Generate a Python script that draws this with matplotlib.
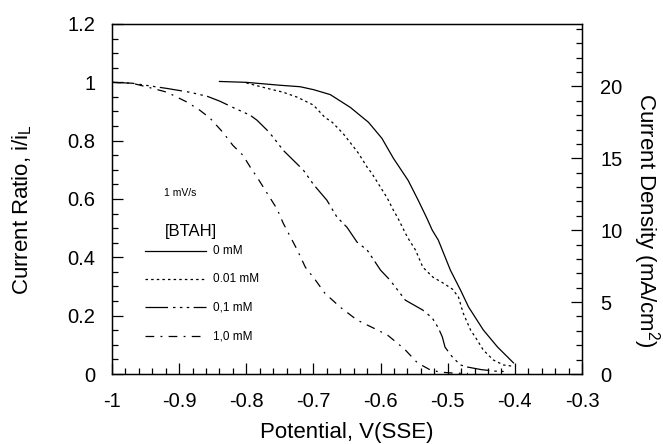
import matplotlib
matplotlib.use("Agg")
import matplotlib.pyplot as plt
from matplotlib.ticker import MultipleLocator, FixedLocator

plt.rcParams['font.family'] = ['Liberation Sans', 'DejaVu Sans']

# ---- data ----
x_0mM = [-0.84, -0.80, -0.75, -0.72, -0.70, -0.675, -0.645, -0.618, -0.598, -0.581,
         -0.559, -0.544, -0.531, -0.523, -0.514, -0.496, -0.481, -0.469, -0.447, -0.426, -0.402]
y_0mM = [1.003, 1.0, 0.99, 0.985, 0.975, 0.958, 0.914, 0.863, 0.808, 0.74,
         0.664, 0.596, 0.534, 0.493, 0.459, 0.356, 0.288, 0.23, 0.151, 0.093, 0.038]

x_001mM = [-0.80, -0.77, -0.745, -0.724, -0.70, -0.683, -0.672, -0.656, -0.642, -0.633,
           -0.62, -0.613, -0.60, -0.59, -0.581, -0.575, -0.56, -0.548, -0.537, -0.522,
           -0.507, -0.493, -0.484, -0.477, -0.466, -0.456, -0.447, -0.432, -0.417, -0.404]
y_001mM = [0.998, 0.98, 0.966, 0.949, 0.922, 0.88, 0.863, 0.825, 0.784, 0.757,
           0.709, 0.688, 0.64, 0.603, 0.562, 0.538, 0.469, 0.425, 0.366, 0.332,
           0.312, 0.291, 0.264, 0.209, 0.151, 0.116, 0.082, 0.048, 0.031, 0.027]

x_01mM = [-1.0, -0.97, -0.95, -0.918, -0.884, -0.858, -0.839, -0.82, -0.794, -0.784,
          -0.769, -0.76, -0.745, -0.73, -0.715, -0.70, -0.68, -0.665, -0.65, -0.635,
          -0.62, -0.60, -0.586, -0.571, -0.563, -0.537, -0.523, -0.514, -0.508, -0.504,
          -0.493, -0.481, -0.471, -0.45, -0.43, -0.41]
y_01mM = [1.0, 0.997, 0.99, 0.979, 0.966, 0.952, 0.935, 0.914, 0.887, 0.87,
          0.836, 0.812, 0.767, 0.733, 0.699, 0.65, 0.596, 0.538, 0.503, 0.452,
          0.425, 0.356, 0.322, 0.277, 0.253, 0.219, 0.192, 0.158, 0.127, 0.092,
          0.058, 0.031, 0.024, 0.015, 0.01, 0.008]

x_1mM = [-1.0, -0.97, -0.939, -0.918, -0.888, -0.869, -0.854, -0.835, -0.82, -0.805,
         -0.794, -0.784, -0.769, -0.754, -0.745, -0.724, -0.712, -0.697, -0.683, -0.66,
         -0.635, -0.611, -0.59, -0.575, -0.563, -0.545, -0.526, -0.51, -0.49, -0.47]
y_1mM = [1.0, 0.997, 0.979, 0.966, 0.932, 0.904, 0.877, 0.829, 0.784, 0.75,
         0.709, 0.675, 0.62, 0.565, 0.517, 0.425, 0.366, 0.322, 0.277, 0.229,
         0.185, 0.158, 0.134, 0.106, 0.082, 0.038, 0.014, 0.006, 0.003, 0.002]

labels = ["0 mM", "0.01 mM", "0,1 mM", "1,0 mM"]
limiting_current = 20.28  # mA/cm2 corresponding to i/iL = 1

x_ticks = [-1, -0.9, -0.8, -0.7, -0.6, -0.5, -0.4, -0.3]
x_ticklabels = ["-1", "-0.9", "-0.8", "-0.7", "-0.6", "-0.5", "-0.4", "-0.3"]
y_ticks = [0, 0.2, 0.4, 0.6, 0.8, 1.0, 1.2]
y_ticklabels = ["0", "0.2", "0.4", "0.6", "0.8", "1", "1.2"]
y2_ticks = [0, 5, 10, 15, 20]
y2_ticklabels = ["0", "5", "10", "15", "20"]

# ---- figure ----
fig = plt.figure(figsize=(6.63, 4.44), dpi=100)
ax = fig.add_axes([112/663, 1-374/444, (582-112)/663, (374-24)/444])

lw = 0.9
styles = [
    dict(linestyle='-'),
    dict(linestyle=(0, (2.0, 2.5))),
    dict(linestyle=(0, (18, 4, 2, 3.5, 2, 3.5, 2, 3.5))),
    dict(linestyle=(0, (7, 5, 1.5, 5))),
]
series = [(x_0mM, y_0mM), (x_001mM, y_001mM), (x_01mM, y_01mM), (x_1mM, y_1mM)]
for (xs, ys), st in zip(series, styles):
    ax.plot(xs, ys, color='black', linewidth=lw, **st)

tick_fs = 14.5
label_fs = 16

ax.set_xlim(-1, -0.3)
ax.set_ylim(0, 1.2)
ax.xaxis.set_major_locator(FixedLocator(x_ticks))
ax.set_xticklabels(x_ticklabels)
ax.xaxis.set_minor_locator(MultipleLocator(0.02))
ax.yaxis.set_major_locator(FixedLocator(y_ticks))
ax.set_yticklabels(y_ticklabels)
ax.yaxis.set_minor_locator(MultipleLocator(0.05))
ax.tick_params(which='both', direction='in', top=False, right=False,
               labelsize=tick_fs, width=0.9)
ax.tick_params(which='major', length=8)
ax.tick_params(which='minor', length=4.5)
ax.tick_params(axis='x', pad=13)
ax.tick_params(axis='y', pad=12)
for s in ax.spines.values():
    s.set_linewidth(1.0)

ax.set_xlabel("Potential, V(SSE)", fontsize=label_fs)
ax.xaxis.set_label_coords(0.5, -0.166)
ax.xaxis.label.set_va('center')
ax.set_ylabel(r"Current Ratio, i/i$_\mathregular{L}$", fontsize=label_fs)
ax.yaxis.set_label_coords(-0.19, 0.47)
ax.yaxis.label.set_va('center')

ax2 = ax.twinx()
ax2.set_ylim(0, 1.2 * limiting_current)
ax2.yaxis.set_major_locator(FixedLocator(y2_ticks))
ax2.set_yticklabels(y2_ticklabels)
ax2.yaxis.set_minor_locator(MultipleLocator(1))
ax2.tick_params(which='both', direction='in', labelsize=tick_fs, width=0.9, pad=13)
ax2.tick_params(which='major', length=8)
ax2.tick_params(which='minor', length=4.5)
ax2.set_ylabel(r"Current Density (mA/cm$^\mathregular{2}$)", fontsize=label_fs,
               rotation=270)
ax2.yaxis.set_label_coords(1.138, 0.44)
ax2.yaxis.label.set_va('center')

# annotations / legend (drawn manually as in original)
ax.text(-0.922, 0.62, "1 mV/s", fontsize=7.5, va='center', ha='left')
ax.text(-0.921, 0.49, "[BTAH]", fontsize=12, va='center', ha='left')
leg_y = [0.421, 0.325, 0.229, 0.130]
for lab, st, yy in zip(labels, styles, leg_y):
    ax.plot([-0.951, -0.86], [yy, yy], color='black', linewidth=lw, **st)
    ax.text(-0.85, yy, lab, fontsize=8.5, va='center', ha='left')

fig.savefig("out.png", dpi=100)
